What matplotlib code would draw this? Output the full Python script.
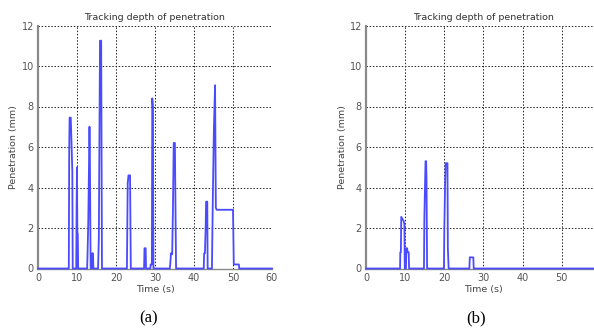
import matplotlib
matplotlib.use("Agg")
import matplotlib.pyplot as plt

# ---- data ----
title_text = "Tracking depth of penetration"
xlabel_text = "Time (s)"
ylabel_text = "Penetration (mm)"
x_ticks = [0, 10, 20, 30, 40, 50, 60]
y_ticks = [0, 2, 4, 6, 8, 10, 12]
captions = ["(a)", "(b)"]

time_a = [0, 7.9, 8.0, 8.1, 8.4, 8.8, 8.9,
          9.8, 9.9, 10.0, 10.05, 10.1, 10.2, 10.3,
          12.6, 12.7, 12.9, 13.2, 13.3, 13.5, 13.8, 13.9, 14.1, 14.2,
          15.4, 15.6, 15.9, 16.2, 16.4,
          22.8, 23.0, 23.2, 23.6, 23.8,
          27.2, 27.3, 27.6, 27.7,
          28.8, 28.9, 29.2, 29.3, 29.45, 29.6,
          33.8, 33.9, 34.1, 34.4, 34.6, 34.8, 35.1, 35.4,
          42.5, 42.6, 42.8, 43.0, 43.1, 43.4, 43.5,
          44.6, 44.8, 45.1, 45.4, 45.6, 45.8, 50.0, 50.2, 51.5, 51.6, 60]
pen_a = [0, 0, 5.8, 7.45, 7.45, 4.8, 0,
         0, 3.1, 5.0, 3.1, 1.7, 1.7, 0,
         0, 0.7, 2.4, 7.0, 5.6, 0, 0, 0.75, 0.75, 0,
         0, 1.5, 11.25, 11.25, 0,
         0, 4.2, 4.6, 4.6, 0,
         0, 1.0, 1.0, 0,
         0, 0.2, 0.2, 8.4, 8.0, 0,
         0, 0.2, 0.75, 0.7, 2.9, 6.2, 6.2, 0,
         0, 0.75, 0.75, 2.1, 3.3, 3.3, 0,
         0, 3.1, 6.9, 9.05, 3.0, 2.9, 2.9, 0.2, 0.2, 0, 0]

time_b = [0, 8.7, 8.75, 8.9, 9.0, 9.6, 9.8, 9.9,
          10.2, 10.3, 10.5, 10.6, 10.9, 11.0,
          14.8, 14.9, 15.2, 15.35, 15.45, 15.6,
          19.9, 20.0, 20.2, 20.35, 20.8, 20.9, 21.1,
          26.4, 26.5, 27.4, 27.5, 60]
pen_b = [0, 0, 0.8, 0.8, 2.55, 2.35, 2.2, 0,
         0, 1.0, 1.0, 0.8, 0.8, 0,
         0, 2.5, 5.3, 5.3, 4.4, 0,
         0, 2.0, 4.2, 5.2, 5.2, 1.0, 0,
         0, 0.55, 0.55, 0, 0]

W, H = 594, 329
fig = plt.figure(figsize=(W / 100, H / 100), dpi=100)
plt.rcParams['font.family'] = ['DejaVu Sans']

panels = [
    (time_a, pen_a, 38, 272, 14),
    (time_b, pen_b, 366, 601, 342),
]
top_px, bot_px = 25.5, 268.5
for i, (tt, pp, x0, x1, ylab_x) in enumerate(panels):
    ax = fig.add_axes([x0 / W, 1 - bot_px / H, (x1 - x0) / W, (bot_px - top_px) / H])
    ax.plot(tt, pp, color='#4a4aff', lw=1.3, zorder=3, clip_on=False)
    ax.set_xlim(0, 60)
    ax.set_ylim(0, 12)
    ax.set_xticks(x_ticks)
    ax.set_yticks(y_ticks)
    ax.tick_params(length=0, labelsize=7, colors='#555555', pad=3)
    ax.grid(True, color='#222222', linestyle=(0, (1.5, 1.8)), lw=0.7)
    for s in ['top', 'right']:
        ax.spines[s].set_visible(False)
    ax.spines['left'].set_color('#8a8a8a')
    ax.spines['left'].set_linewidth(1.6)
    ax.spines['bottom'].set_color('#8a8a8a')
    ax.spines['bottom'].set_linewidth(1.0)
    ax.set_axisbelow(True)
    ax.set_title(title_text, fontsize=6.8, color='#333333', pad=4)
    ax.set_xlabel(xlabel_text, fontsize=6.8, color='#444444', labelpad=2)
    fig.text(ylab_x / W, 1 - 147 / H, ylabel_text, rotation=90, fontsize=6.8,
             color='#444444', ha='center', va='center')
    cx = (x0 + min(x1, 599)) / 2 - 6
    fig.text(cx / W, 1 - 318 / H, captions[i], fontsize=12,
             family='Liberation Serif', ha='center', va='center', color='black')

fig.savefig('out.png', dpi=100)
